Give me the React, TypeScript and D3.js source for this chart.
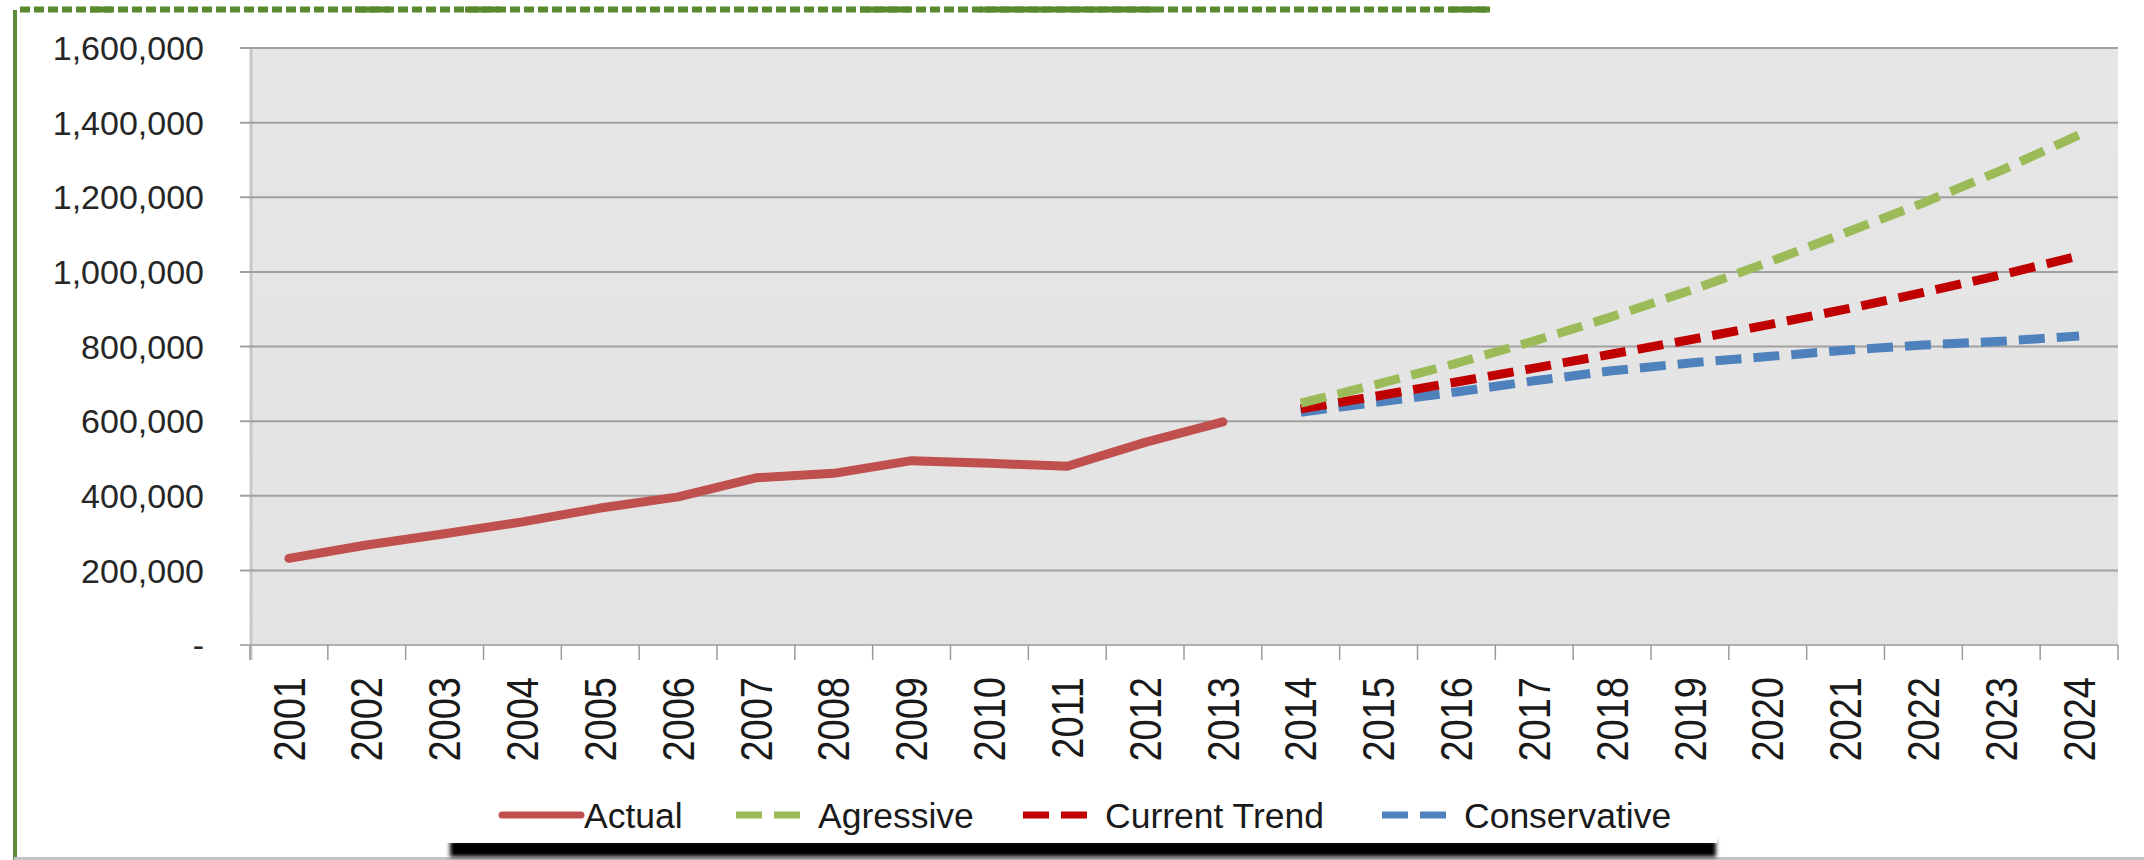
import React from "react";
import * as d3 from "d3";

const years = ["2001","2002","2003","2004","2005","2006","2007","2008","2009","2010","2011","2012","2013","2014","2015","2016","2017","2018","2019","2020","2021","2022","2023","2024"];
const actualYears = ["2001","2002","2003","2004","2005","2006","2007","2008","2009","2010","2011","2012","2013"];
const actualValues = [232000, 268000, 298000, 330000, 367000, 397000, 448000, 460000, 494000, 487000, 479000, 543000, 598000];
const projYears = ["2014","2015","2016","2017","2018","2019","2020","2021","2022","2023","2024"];
const agressiveValues = [648000, 700000, 755000, 815000, 880000, 950000, 1025000, 1105000, 1185000, 1272000, 1367000];
const currentTrendValues = [633000, 668000, 705000, 742000, 780000, 818000, 858000, 900000, 945000, 992000, 1043000];
const conservativeValues = [624000, 651000, 678000, 708000, 735000, 756000, 773000, 790000, 804000, 814000, 828000];
const yTicks = [0, 200000, 400000, 600000, 800000, 1000000, 1200000, 1400000, 1600000];
const legendLabels = ["Actual", "Agressive", "Current Trend", "Conservative"];

const W = 2144, H = 860;
const PL = 250, PR = 2118, PT = 48, PB = 645;

export default function App() {
  const x = d3.scaleBand<string>().domain(years).range([PL, PR]);
  const y = d3.scaleLinear().domain([0, 1600000]).range([PB, PT]);
  const cx = (yr: string) => (x(yr) as number) + x.bandwidth() / 2;
  const line = d3.line<[string, number]>().x(d => cx(d[0])).y(d => y(d[1]));
  const fmt = (v: number) => (v === 0 ? "-" : d3.format(",")(v));

  const series = [
    { name: legendLabels[0], color: "#c0504d", data: actualYears.map((yr, i) => [yr, actualValues[i]] as [string, number]), dash: null },
    { name: legendLabels[1], color: "#9bbb59", data: projYears.map((yr, i) => [yr, agressiveValues[i]] as [string, number]), dash: "26 12" },
    { name: legendLabels[2], color: "#c00000", data: projYears.map((yr, i) => [yr, currentTrendValues[i]] as [string, number]), dash: "26 12" },
    { name: legendLabels[3], color: "#4f81bd", data: projYears.map((yr, i) => [yr, conservativeValues[i]] as [string, number]), dash: "26 12" },
  ];
  const drawOrder = [series[0], series[3], series[2], series[1]];

  const greenSolid: [number, number][] = [[90, 112], [355, 390], [465, 500], [860, 910], [980, 1155], [1450, 1490]];
  const legendItems = [
    { s: series[0], lx1: 502, lx2: 581, tx: 584 },
    { s: series[1], lx1: 736, lx2: 800, tx: 818 },
    { s: series[2], lx1: 1023, lx2: 1087, tx: 1105 },
    { s: series[3], lx1: 1382, lx2: 1446, tx: 1464 },
  ];

  return (
    <svg width={W} height={H} style={{ position: "absolute", left: 0, top: 0, background: "#fff" }}
      fontFamily="'Liberation Sans', Arial, sans-serif">
      <defs>
        <filter id="blur" x="-5%" y="-100%" width="110%" height="300%">
          <feGaussianBlur stdDeviation="2" />
        </filter>
        <linearGradient id="plotbg" x1="0" x2="0" y1="0" y2="1">
          <stop offset="0" stopColor="#e6e6e6" />
          <stop offset="1" stopColor="#e3e3e3" />
        </linearGradient>
      </defs>
      {/* frame decoration */}
      <line x1={20} x2={1490} y1={9.5} y2={9.5} stroke="#5a8a30" strokeWidth={6} strokeDasharray="10 4" />
      {greenSolid.map(([a, b], i) => (
        <line key={i} x1={a} x2={b} y1={9.5} y2={9.5} stroke="#5a8a30" strokeWidth={6} />
      ))}
      <rect x={13} y={10} width={4} height={H - 10} fill="#5f8b3a" />
      <line x1={14} x2={W} y1={858.5} y2={858.5} stroke="#c4c4c4" strokeWidth={3} />

      {/* plot area */}
      <rect x={PL} y={PT} width={PR - PL} height={PB - PT} fill="url(#plotbg)" />
      <line x1={PL + 1} x2={PL + 1} y1={PT} y2={PB + 15} stroke="#c8c8c8" strokeWidth={3} />
      {yTicks.map(t => (
        <g key={t}>
          <line x1={PL - 10} x2={PR} y1={y(t)} y2={y(t)} stroke={t === 0 ? "#b0b0b0" : "#a0a0a0"} strokeWidth={2} />
          <text x={204} y={y(t)} dy="0.36em" textAnchor="end" fontSize={34} fill="#262626">{fmt(t)}</text>
        </g>
      ))}
      {years.map(yr => (
        <line key={"t" + yr} x1={x(yr) as number} x2={x(yr) as number} y1={PB} y2={PB + 15} stroke="#9a9a9a" strokeWidth={1.5} />
      ))}
      <line x1={PR} x2={PR} y1={PB} y2={PB + 15} stroke="#9a9a9a" strokeWidth={1.5} />
      {years.map(yr => (
        <text key={"l" + yr} transform={`translate(${cx(yr)},${677}) scale(1.15,1) rotate(-90)`} dy="0.36em"
          textAnchor="end" fontSize={38} fill="#1a1a1a">{yr}</text>
      ))}

      {/* series */}
      {drawOrder.map(s => (
        <path key={s.name} d={line(s.data) || ""} fill="none" stroke={s.color} strokeWidth={9}
          strokeDasharray={s.dash || undefined} strokeLinejoin="round" strokeLinecap={s.dash ? "butt" : "round"} />
      ))}

      {/* legend */}
      <rect x={450} y={840} width={1266} height={17} fill="#000" filter="url(#blur)" />
      <rect x={445} y={790} width={1272} height={53} fill="#fff" />
      {legendItems.map(({ s, lx1, lx2, tx }) => (
        <g key={s.name}>
          <line x1={lx1} x2={lx2} y1={815} y2={815} stroke={s.color} strokeWidth={7}
            strokeDasharray={s.dash || undefined} strokeLinecap={s.dash ? "butt" : "round"} />
          <text x={tx} y={815} dy="0.36em" fontSize={35.5} fill="#1a1a1a">{s.name}</text>
        </g>
      ))}
    </svg>
  );
}
